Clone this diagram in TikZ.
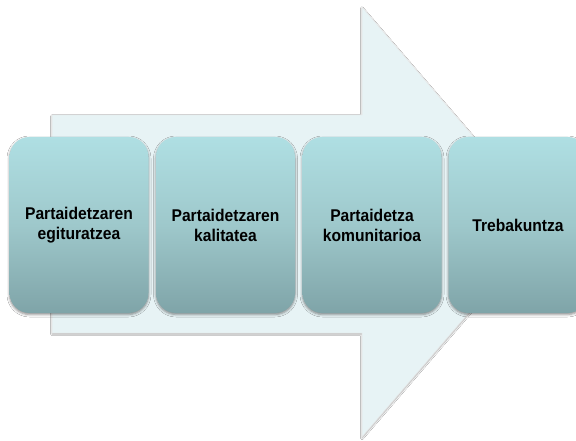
\documentclass[tikz,border=0pt]{standalone}
\usepackage{fontspec}
\newfontfamily\boxfont{Liberation Sans}[FakeStretch=0.92]
\usetikzlibrary{shadows.blur}
\definecolor{arrowfill}{HTML}{E7F3F5}
\definecolor{boxtop}{HTML}{AFDFE3}
\definecolor{boxmid}{HTML}{9EC8CB}
\definecolor{boxbot}{HTML}{7FA4A8}
\tikzset{
  stagebox/.style={rectangle, rounded corners=20pt, minimum width=139pt, minimum height=176pt,
    top color=boxtop, bottom color=boxbot, middle color=boxmid, draw=none,
    align=center, text=black, font=\boxfont\bfseries\fontsize{17}{20}\selectfont,
    blur shadow={shadow xshift=0pt, shadow yshift=-1.5pt, shadow blur radius=2.5pt, shadow opacity=45}},
  bigarrow/.style={fill=arrowfill, draw=black!10, line width=0.5pt,
    blur shadow={shadow xshift=0pt, shadow yshift=-1.2pt, shadow blur radius=1.5pt, shadow opacity=35}}
}
\begin{document}
\begin{tikzpicture}[x=1pt,y=-1pt]
\useasboundingbox (0,0) rectangle (576,441);
\fill[white] (0,0) rectangle (576,441);
\clip (0,0) rectangle (576,441);
\coordinate (a1) at (52,115);
\coordinate (a2) at (362,115);
\coordinate (a3) at (362,7);
\coordinate (tip) at (547,222);
\coordinate (a5) at (362,437);
\coordinate (a6) at (362,333);
\coordinate (a7) at (52,333);
\path[bigarrow] (a1) -- (a2) -- (a3) -- (tip) -- (a5) -- (a6) -- (a7) -- cycle;
\node[stagebox] (b1) at (79,225) {Partaidetzaren\\egituratzea};
\node[stagebox] (b2) at (225.5,225) {Partaidetzaren\\kalitatea};
\node[stagebox] (b3) at (372,225) {Partaidetza\\komunitarioa};
\node[stagebox] (b4) at (518,225) {Trebakuntza};
\end{tikzpicture}
\end{document}
